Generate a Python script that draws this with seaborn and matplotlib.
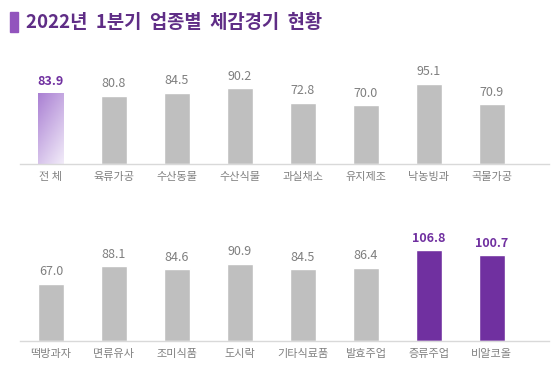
import matplotlib.pyplot as plt
import numpy as np
import seaborn as sns
import pandas as pd
from matplotlib.colors import LinearSegmentedColormap

sns.set_style("white")
plt.rcParams['font.family'] = ['Noto Sans CJK KR', 'DejaVu Sans']

title = "2022년 1분기 업종별 체감경기 현황"

top_labels = ["전 체", "육류가공", "수산동물", "수산식물", "과실채소", "유지제조", "낙농빙과", "곡물가공"]
top_values = [83.9, 80.8, 84.5, 90.2, 72.8, 70.0, 95.1, 70.9]

bottom_labels = ["떡방과자", "면류유사", "조미식품", "도시락", "기타식료품", "발효주업", "증류주업", "비알코올"]
bottom_values = [67.0, 88.1, 84.6, 90.9, 84.5, 86.4, 106.8, 100.7]

GRAY = "#BFBFBF"
PURPLE = "#7030A0"
top_colors = [GRAY] * 8
bottom_colors = [GRAY] * 6 + [PURPLE, PURPLE]
top_highlight = [True] + [False] * 7
bottom_highlight = [False] * 6 + [True, True]

fig = plt.figure(figsize=(5.51, 3.71), dpi=100)

# title with purple marker
fig.patches.append(plt.Rectangle((10 / 551, 1 - 32 / 371), 7.5 / 551, 20 / 371,
                                 transform=fig.transFigure, color="#9254BD"))
fig.text(26 / 551, 1 - 22 / 371, title.replace(" ", "  "), fontsize=13.5, fontweight="bold",
         color="#5F2D86", va="center", ha="left")


def draw(ax, labels, values, colors, highlight, gradient_first=False):
    df = pd.DataFrame({"cat": labels, "val": values})
    sns.barplot(data=df, x="cat", y="val", hue="cat", palette=colors,
                width=0.41, legend=False, ax=ax, saturation=1)
    ax.set_ylim(0, 120)
    ax.set_xlim(-0.5, 7.9)
    for side in ["top", "right", "left"]:
        ax.spines[side].set_visible(False)
    ax.spines["bottom"].set_color("#D9D9D9")
    ax.spines["bottom"].set_linewidth(1.0)
    ax.set_yticks([])
    ax.set_xlabel("")
    ax.set_ylabel("")
    ax.tick_params(axis="x", length=0, pad=6, labelsize=8, labelcolor="#808080")
    for i, (v, hl) in enumerate(zip(values, highlight)):
        ax.annotate(f"{v:.1f}", (i, v), xytext=(0, 4), textcoords="offset points",
                    ha="center", va="bottom", fontsize=9,
                    fontweight="bold" if hl else "normal",
                    color=PURPLE if hl else "#7F7F7F")
    if gradient_first:
        bar = ax.patches[0]
        cmap = LinearSegmentedColormap.from_list("g", ["#AA80D3", "#F2ECF9"])
        xx, yy = np.meshgrid(np.linspace(0, 1, 50), np.linspace(0, 1, 100))
        grad = xx * 0.45 + yy * 0.75
        x0, w = bar.get_x(), bar.get_width()
        im = ax.imshow(grad, cmap=cmap, extent=[x0, x0 + w, 0, bar.get_height()],
                       origin="upper", aspect="auto", zorder=bar.get_zorder() + 0.1)
        im.set_clip_path(bar)
        ax.set_xlim(-0.5, 7.9)
        ax.set_ylim(0, 120)


ax1 = fig.add_axes([19.5 / 551, (371 - 164) / 371, 529 / 551, 101 / 371])
draw(ax1, top_labels, top_values, top_colors, top_highlight, gradient_first=True)

ax2 = fig.add_axes([19.5 / 551, 30 / 371, 529 / 551, 102 / 371])
draw(ax2, bottom_labels, bottom_values, bottom_colors, bottom_highlight)

fig.savefig("out.png", dpi=100)
